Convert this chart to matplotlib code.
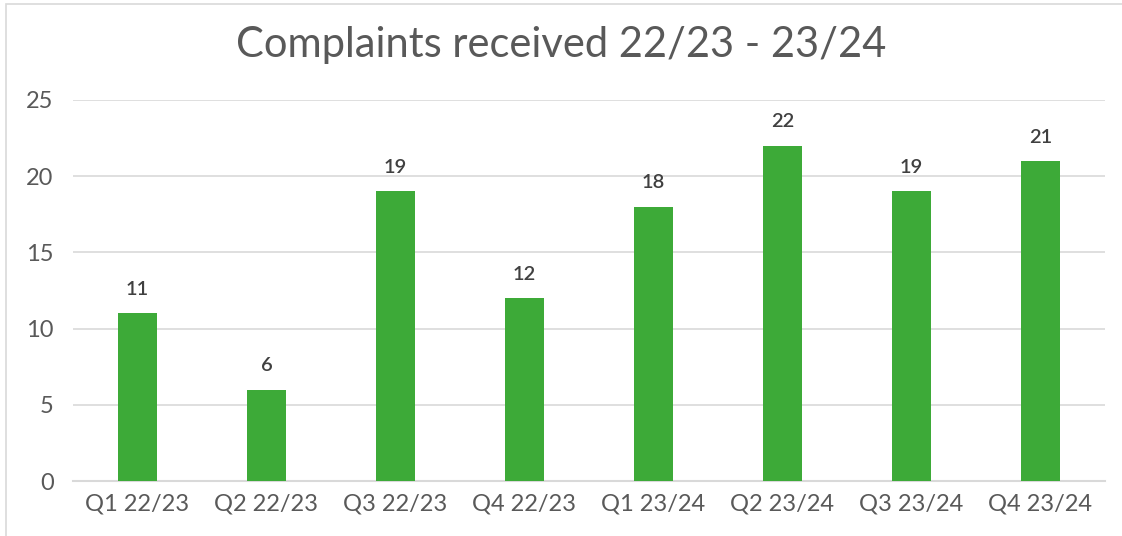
import matplotlib
matplotlib.use("Agg")
import matplotlib.pyplot as plt
from matplotlib.patches import Rectangle

categories = ["Q1 22/23", "Q2 22/23", "Q3 22/23", "Q4 22/23",
              "Q1 23/24", "Q2 23/24", "Q3 23/24", "Q4 23/24"]
values = [11, 6, 19, 12, 18, 22, 19, 21]
yticks = [0, 5, 10, 15, 20, 25]

plt.rcParams['font.family'] = ['Lato', 'DejaVu Sans']

fig = plt.figure(figsize=(11.22, 5.36), dpi=100)
ax = fig.add_axes([73/1122, 1 - 481/536, (1105 - 73)/1122, (481 - 100)/536])

x = range(len(categories))
bars = ax.bar(x, values, width=0.31, color="#3DAA38", zorder=3)
for xi, v in zip(x, values):
    ax.annotate(str(v), (xi, v), xytext=(0, 11), textcoords="offset points",
                ha="center", va="bottom", fontsize=14.5, fontweight="semibold",
                color="#404040")

ax.set_xlim(-0.5, len(categories) - 0.5)
ax.set_ylim(0, 25)
ax.set_yticks(yticks)
ax.set_xticks(list(x))
ax.set_xticklabels(categories)
ax.tick_params(axis="both", length=0, labelsize=17, colors="#595959")
ax.tick_params(axis="y", pad=14)
ax.tick_params(axis="x", pad=9)
ax.grid(axis="y", color="#D9D9D9", linewidth=1.2, zorder=0)
for s in ["top", "right", "left"]:
    ax.spines[s].set_visible(False)
ax.spines["bottom"].set_color("#D9D9D9")
ax.spines["bottom"].set_linewidth(1.5)

fig.text(0.5, 1 - 45/536, "Complaints received 22/23 - 23/24", ha="center", va="center",
         fontsize=30, color="#595959")

fig.patches.append(Rectangle((6/1122, -0.01), 1.2, 1.0 - 4/536 + 0.01, transform=fig.transFigure,
                             fill=False, edgecolor="#D9D9D9", linewidth=1.2))

fig.savefig("out.png", dpi=100)
